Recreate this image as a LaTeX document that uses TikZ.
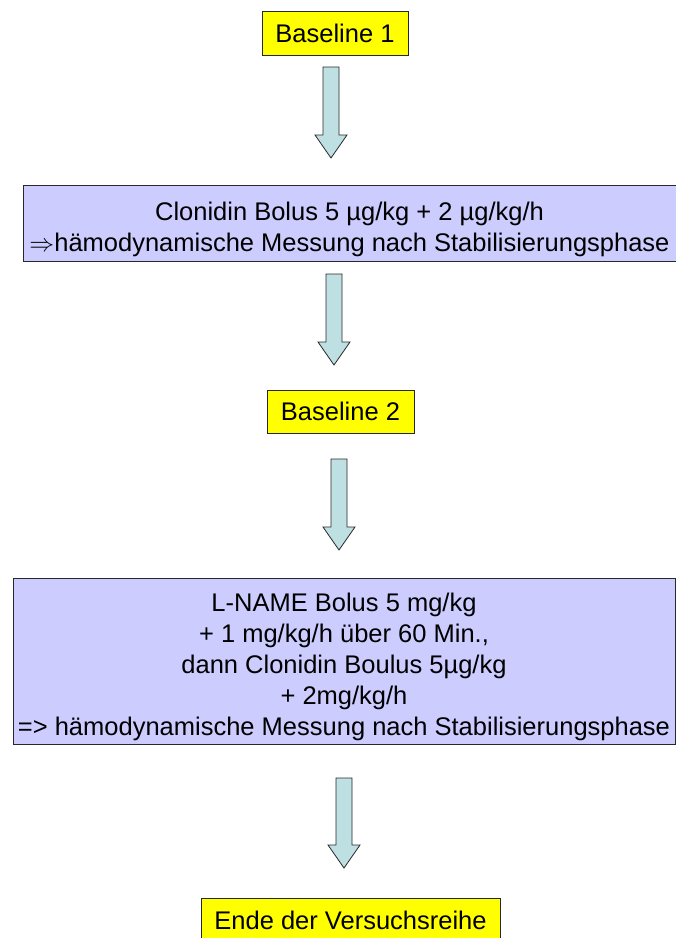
\documentclass[tikz,border=0pt]{standalone}
\usepackage{fontspec}
\setmainfont{Liberation Sans}
\usetikzlibrary{calc}
\definecolor{boxyellow}{RGB}{255,255,0}
\definecolor{boxlav}{RGB}{204,204,255}
\definecolor{arrowfill}{RGB}{190,224,226}
\definecolor{edge}{RGB}{40,40,40}
\tikzset{
  ybox/.style={draw=edge, fill=boxyellow, line width=1pt, inner sep=0pt,
    font=\fontsize{25.5}{31}\selectfont},
  pbox/.style={draw=edge, fill=boxlav, line width=1pt, inner sep=0pt},
  ptext/.style={inner sep=0pt, align=center, font=\fontsize{25.5}{31}\selectfont},
  barrow/.style={draw=edge, fill=arrowfill, line width=0.8pt, line join=miter}
}
\newcommand{\blockarrow}[3]{%
  \draw[barrow] (#1-8,#2) -- (#1+8,#2) -- (#1+8,#3-23) -- (#1+16,#3-23) -- (#1,#3)
    -- (#1-16,#3-23) -- (#1-8,#3-23) -- cycle;}
\begin{document}
\begin{tikzpicture}[x=1pt,y=-1pt]
\useasboundingbox (0,0) rectangle (676,938);
\fill[white] (0,0) rectangle (676,938);

\node[ybox, minimum width=146pt, minimum height=44pt] (b1) at (335,33) {Baseline 1};
\blockarrow{331}{67}{158}

\node[pbox, minimum width=653pt, minimum height=76pt] (c1) at (349.5,223) {};
\node[ptext] (c1t) at ($(c1.center)+(0,6)$)
  {Clonidin Bolus 5 µg/kg + 2 µg/kg/h\\$\Rightarrow$hämodynamische Messung nach Stabilisierungsphase};
\blockarrow{334}{274}{365}

\node[ybox, minimum width=147pt, minimum height=43pt] (b2) at (340.5,411.5) {Baseline 2};
\blockarrow{339}{459}{550}

\node[pbox, minimum width=662pt, minimum height=166pt] (l1) at (344,661) {};
\node[ptext] (l1t) at ($(l1.center)+(0,6)$)
  {L-NAME Bolus 5 mg/kg\\+ 1 mg/kg/h über 60 Min.,\\dann Clonidin Boulus 5µg/kg\\+ 2mg/kg/h\\=> hämodynamische Messung nach Stabilisierungsphase};
\blockarrow{344}{778}{868}

\node[ybox, minimum width=299pt, minimum height=44pt] (e1) at (350.5,920) {Ende der Versuchsreihe};
\end{tikzpicture}
\end{document}
